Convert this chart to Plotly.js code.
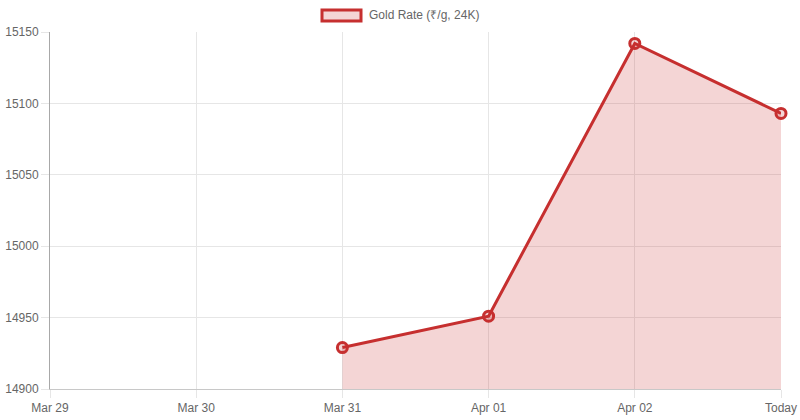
<!DOCTYPE html>
<html>
<head>
<meta charset="utf-8">
<script src="https://cdn.plot.ly/plotly-3.0.1.min.js"></script>
<style>html,body{margin:0;padding:0;background:#fff;}#chart{width:800px;height:420px;}</style>
</head>
<body>
<div id="chart"></div>
<script>
const categories = ["Mar 29", "Mar 30", "Mar 31", "Apr 01", "Apr 02", "Today"];
const goldRate = [null, null, 14929, 14951, 15142, 15093];
const yTicks = [14900, 14950, 15000, 15050, 15100, 15150];
const seriesName = "Gold Rate (₹/g, 24K)";

const lineColor = "#c62f2f";
const fillColor = "rgba(198,47,47,0.2)";
const fontFam = "Liberation Sans, Arial, sans-serif";

const trace = {
  x: categories,
  y: goldRate,
  type: "scatter",
  mode: "lines+markers",
  fill: "tozeroy",
  fillcolor: fillColor,
  connectgaps: false,
  cliponaxis: false,
  line: {color: lineColor, width: 3},
  marker: {size: 10, color: fillColor, line: {color: lineColor, width: 3}},
  showlegend: false,
  hoverinfo: "x+y"
};

const layout = {
  width: 800, height: 420,
  margin: {l: 50, r: 19, t: 32, b: 31},
  paper_bgcolor: "#fff", plot_bgcolor: "#fff",
  font: {family: fontFam, size: 12, color: "#666"},
  showlegend: false,
  xaxis: {
    type: "category",
    range: [0, categories.length - 1],
    showgrid: true, gridcolor: "#e6e6e6", gridwidth: 1,
    ticks: "outside", ticklen: 8, tickcolor: "#e6e6e6",
    showline: true, linecolor: "#c8c8c8", linewidth: 1,
    zeroline: false,
    tickfont: {family: fontFam, size: 12, color: "#666"},
    fixedrange: true
  },
  yaxis: {
    range: [yTicks[0], yTicks[yTicks.length - 1]],
    tickvals: yTicks,
    ticktext: yTicks.map(String),
    showgrid: true, gridcolor: "#e6e6e6", gridwidth: 1,
    ticks: "outside", ticklen: 8, tickcolor: "#e6e6e6",
    showline: true, linecolor: "#a8a8a8", linewidth: 1,
    zeroline: false,
    tickfont: {family: fontFam, size: 12, color: "#666"},
    fixedrange: true
  },
  shapes: [{
    type: "rect", xref: "paper", yref: "paper",
    x0: (322 - 50) / 731, x1: (361 - 50) / 731,
    y0: (389 - 21) / 357, y1: (389 - 10) / 357,
    fillcolor: fillColor, line: {color: lineColor, width: 3}
  }],
  annotations: [{
    xref: "paper", yref: "paper",
    x: (367 - 50) / 731, y: (389 - 15.5) / 357,
    xanchor: "left", yanchor: "middle",
    text: seriesName, showarrow: false,
    font: {family: fontFam, size: 12, color: "#666"}
  }]
};

Plotly.newPlot("chart", [trace], layout, {displayModeBar: false, staticPlot: false});
</script>
</body>
</html>
